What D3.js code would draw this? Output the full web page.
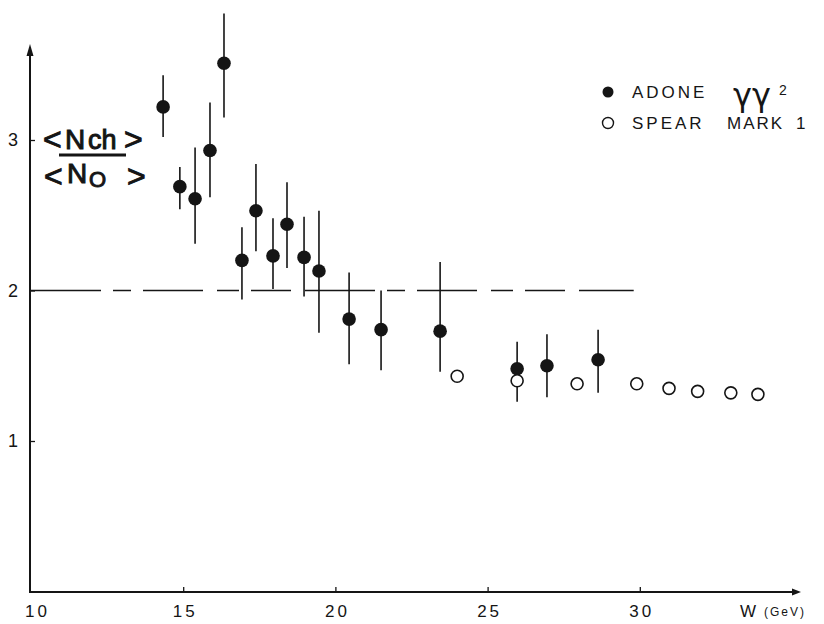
<!DOCTYPE html>
<html><head><meta charset="utf-8">
<script src="https://cdn.jsdelivr.net/npm/d3@7"></script>
<style>
html,body{margin:0;padding:0;background:#fff;}
svg{display:block;font-family:"Liberation Sans",Arial,sans-serif;}
</style></head>
<body>
<svg id="c" width="824" height="624"></svg>
<script>
// ADONE γγ2 (filled)
const adoneW   = [14.34,14.89,15.39,15.88,16.34,16.93,17.39,17.95,18.41,18.97,19.46,20.45,21.5,23.44,25.97,26.95,28.63];
const adoneR   = [3.22,2.69,2.61,2.93,3.51,2.20,2.53,2.23,2.44,2.22,2.13,1.81,1.74,1.73,1.48,1.50,1.54];
const adoneHi  = [3.43,2.82,2.95,3.25,3.84,2.42,2.84,2.48,2.72,2.49,2.53,2.12,2.00,2.19,1.66,1.71,1.74];
const adoneLo  = [3.02,2.54,2.31,2.62,3.15,1.94,2.26,2.01,2.15,1.96,1.72,1.51,1.47,1.46,1.26,1.29,1.32];
// SPEAR MARK 1 (open)
const spearW   = [24.0,25.97,27.94,29.9,30.96,31.9,32.99,33.88];
const spearR   = [1.43,1.40,1.38,1.38,1.35,1.33,1.32,1.31];
// axes
const xTicks = [10,15,20,25,30];
const yTicks = [1,2,3];
const refLevel = 2;
const refEndW = 29.8;

const svg = d3.select("#c");
const ink = "#151515";
const x = d3.scaleLinear().domain([10,35]).range([31,792]);
const y = d3.scaleLinear().domain([0,3]).range([591.5,140]);

// axes
const gx = svg.append("g").attr("transform","translate(0,592)")
  .call(d3.axisBottom(x).tickValues(xTicks).tickFormat(d3.format("d")).tickSizeInner(-5).tickSizeOuter(0).tickPadding(13));
gx.select(".domain").remove();
gx.selectAll("line").attr("stroke",ink).attr("stroke-width",1.3);
gx.selectAll("text").attr("font-size",17).attr("fill",ink).attr("letter-spacing","3px").attr("dx",1.5)
  .attr("font-family","Liberation Sans, Arial, sans-serif");
gx.selectAll(".tick").filter(d=>d===10).select("line").remove();
gx.selectAll(".tick").filter(d=>d===10).select("text").attr("dx",6);

const gy = svg.append("g").attr("transform","translate(30,0)")
  .call(d3.axisLeft(y).tickValues(yTicks).tickFormat(d3.format("d")).tickSizeInner(-5).tickSizeOuter(0).tickPadding(12));
gy.select(".domain").remove();
gy.selectAll("line").attr("stroke",ink).attr("stroke-width",1.3);
gy.selectAll("text").attr("font-size",18).attr("fill",ink)
  .attr("font-family","Liberation Sans, Arial, sans-serif");

// axis lines
svg.append("line").attr("x1",30).attr("x2",30).attr("y1",593).attr("y2",50)
  .attr("stroke",ink).attr("stroke-width",2);
svg.append("path").attr("d","M30,44 L26.5,56 L33.5,56 Z").attr("fill",ink);
svg.append("line").attr("x1",29).attr("x2",797).attr("y1",592).attr("y2",592)
  .attr("stroke",ink).attr("stroke-width",2);
svg.append("path").attr("d","M801,592 L792,588.5 L792,595.5 Z").attr("fill",ink);

// reference dashed line at 2
svg.append("line").attr("x1",x(10)).attr("x2",x(refEndW)).attr("y1",y(refLevel)).attr("y2",y(refLevel))
  .attr("stroke",ink).attr("stroke-width",1.5).attr("stroke-dasharray","70,12,18,12,60,14,22,12,40,14");

// error bars
svg.append("g").selectAll("line").data(adoneW).join("line")
  .attr("x1",(d)=>x(d)).attr("x2",(d)=>x(d))
  .attr("y1",(d,i)=>y(adoneHi[i])).attr("y2",(d,i)=>y(adoneLo[i]))
  .attr("stroke",ink).attr("stroke-width",1.6);

// filled points
svg.append("g").selectAll("circle").data(adoneW).join("circle")
  .attr("cx",d=>x(d)).attr("cy",(d,i)=>y(adoneR[i])).attr("r",6.8)
  .attr("fill",ink);

// open points
svg.append("g").selectAll("circle").data(spearW).join("circle")
  .attr("cx",d=>x(d)).attr("cy",(d,i)=>y(spearR[i])).attr("r",6)
  .attr("fill","#fff").attr("stroke",ink).attr("stroke-width",1.6);

// y label fraction
const lab = svg.append("g").attr("fill",ink).attr("stroke",ink).attr("stroke-width",1)
  .attr("font-family","Liberation Sans, Arial, sans-serif");
lab.append("text").attr("x",43).attr("y",150).attr("font-size",32).text("<");
lab.append("text").attr("x",65).attr("y",149).attr("font-size",28).text("N");
lab.append("text").attr("x",88).attr("y",149).attr("font-size",27).text("ch");
lab.append("text").attr("x",124).attr("y",150).attr("font-size",32).text(">");
lab.append("line").attr("x1",59).attr("x2",126).attr("y1",155).attr("y2",155).attr("stroke",ink).attr("stroke-width",3);
lab.append("text").attr("x",44).attr("y",187).attr("font-size",32).text("<");
lab.append("text").attr("x",67).attr("y",183).attr("font-size",28).text("N");
lab.append("text").attr("x",89).attr("y",187).attr("font-size",22).text("O");
lab.append("text").attr("x",127).attr("y",187).attr("font-size",32).text(">");

// legend
const lg = svg.append("g").attr("fill",ink).attr("font-family","Liberation Sans, Arial, sans-serif");
lg.append("circle").attr("cx",608).attr("cy",92).attr("r",5.5).attr("fill",ink);
lg.append("text").attr("x",632).attr("y",98).attr("font-size",17).attr("letter-spacing","3px").text("ADONE");
lg.append("text").attr("x",733).attr("y",106).attr("font-size",32).attr("font-family","DejaVu Sans, sans-serif").text("γγ");
lg.append("text").attr("x",779).attr("y",95).attr("font-size",14).text("2");
lg.append("circle").attr("cx",608).attr("cy",123).attr("r",5.5).attr("fill","#fff").attr("stroke",ink).attr("stroke-width",1.4);
lg.append("text").attr("x",632).attr("y",129).attr("font-size",17).attr("letter-spacing","3px").text("SPEAR");
lg.append("text").attr("x",727).attr("y",129).attr("font-size",17).attr("letter-spacing","2px").text("MARK");
lg.append("text").attr("x",796).attr("y",129).attr("font-size",17).text("1");

// x label
svg.append("text").attr("x",740).attr("y",617).attr("font-size",17).attr("fill",ink).text("W");
svg.append("text").attr("x",764).attr("y",616).attr("font-size",12).attr("fill",ink).attr("letter-spacing","2px").text("(GeV)");
</script>
</body></html>
